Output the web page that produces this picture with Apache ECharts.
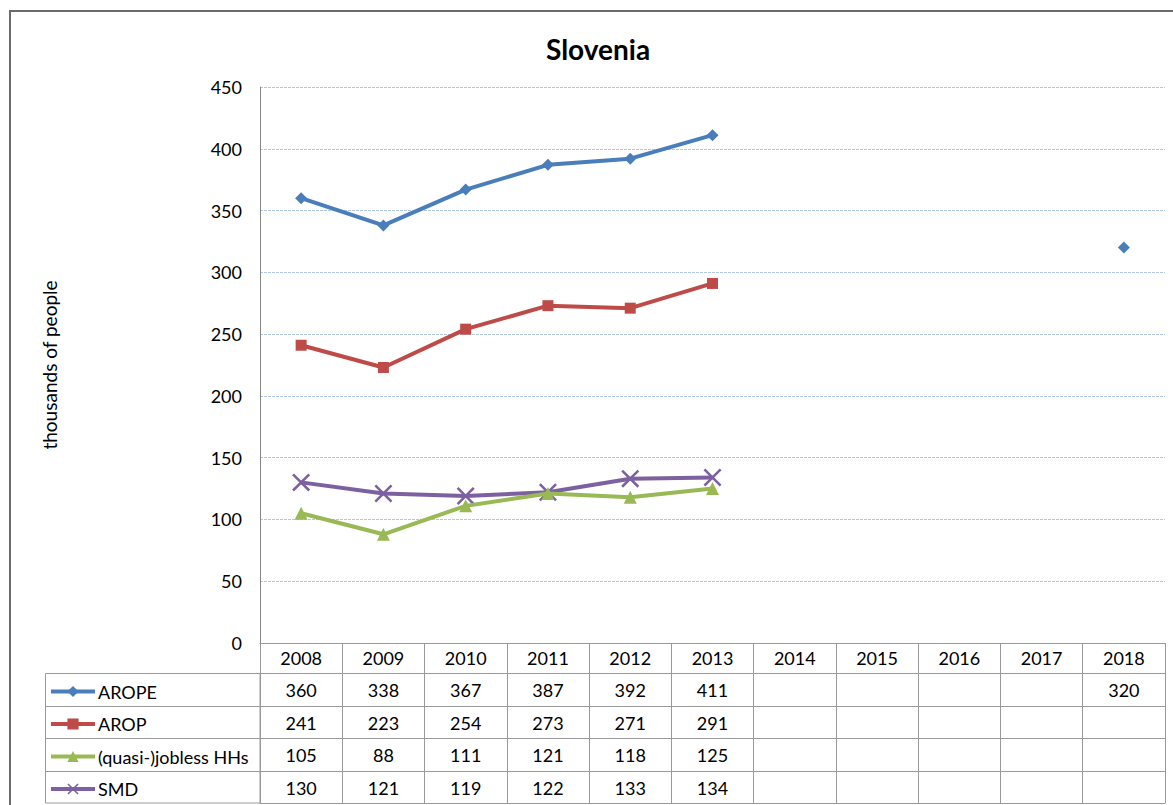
<!DOCTYPE html>
<html>
<head>
<meta charset="utf-8">
<script src="https://cdn.jsdelivr.net/npm/echarts@6/dist/echarts.min.js"></script>
<style>
html,body{margin:0;padding:0;background:#fff;}
#chart{width:1173px;height:805px;}
</style>
</head>
<body>
<div id="chart"></div>
<script>
const years = ['2008','2009','2010','2011','2012','2013','2014','2015','2016','2017','2018'];
const seriesNames = ['AROPE','AROP','(quasi-)jobless HHs','SMD'];
const arope   = [360,338,367,387,392,411,null,null,null,null,320];
const arop    = [241,223,254,273,271,291,null,null,null,null,null];
const jobless = [105,88,111,121,118,125,null,null,null,null,null];
const smd     = [130,121,119,122,133,134,null,null,null,null,null];
const yMin = 0, yMax = 450, yStep = 50;

const FONT = 'Lato';
const GRID = '#9a9a9a';
const colors = ['#4a7ebb','#be4b48','#98b954','#7d60a0'];
const symbols = ['diamond','rect','triangle','path://M0,1 L1,0 L10,9 L9,10 Z M9,0 L10,1 L1,10 L0,9 Z'];
const symbolSizes = [12,11,13,18];
const seriesData = [arope, arop, jobless, smd];
const rowOffsets = [30, 63, 95, 128, 160];
const rowCenters = [689.5, 722, 754.5, 787];

const chart = echarts.init(document.getElementById('chart'), null, {renderer:'svg'});

const xAxes = [{
  type:'category', data: years, boundaryGap:true, gridIndex:0, position:'bottom',
  axisLine:{show:true, lineStyle:{color:GRID, width:1}},
  axisTick:{show:true, interval:0, length:160, lineStyle:{color:GRID, width:1}},
  axisLabel:{interval:0, margin:6, fontSize:18, color:'#000', fontFamily:FONT},
  splitLine:{show:false}
}];
rowOffsets.forEach((off, r) => {
  const vals = seriesData[r];
  xAxes.push({
    type:'category', data: years, boundaryGap:true, gridIndex:0, position:'bottom', offset: off,
    axisLine:{show:true, onZero:false, lineStyle:{color:GRID, width:1}},
    axisTick:{show:false},
    axisLabel:{show: !!vals, interval:0, margin:8, fontSize:18, color:'#000', fontFamily:FONT,
      formatter:(v, i) => (vals && vals[i] != null) ? String(vals[i]) : ''},
    splitLine:{show:false}
  });
});

const legends = seriesNames.map((n, i) => ({
  orient:'horizontal', left:44, top: rowCenters[i] - 12, itemWidth:44, itemHeight:14,
  itemGap:0,
  lineStyle:{width:4},
  textStyle:{fontFamily:FONT, fontSize:18, color:'#000', padding:[0,0,0,-2]},
  data:[n]
}));

const option = {
  animation:false,
  backgroundColor:'#fff',
  title:{text:'Slovenia', left:541, top:30,
    textStyle:{fontFamily:FONT, fontWeight:'bold', fontSize:28, color:'#000'}},
  grid:{left:260, right:8, top:87, bottom:162, containLabel:false},
  legend: legends,
  xAxis: xAxes,
  yAxis:{
    type:'value', min:yMin, max:yMax, interval:yStep,
    name:'thousands of people', nameLocation:'middle', nameGap:201,
    nameTextStyle:{fontFamily:FONT, fontSize:19, color:'#000'},
    axisLine:{show:true, lineStyle:{color:'#868686', width:1}},
    axisTick:{show:false},
    axisLabel:{margin:18, fontSize:18, color:'#000', fontFamily:FONT},
    splitLine:{show:true, lineStyle:{color:'#b0c8e6', width:1, type:[3,1]}}
  },
  series: seriesNames.map((n, i) => ({
    name:n, type:'line', xAxisIndex:0, data: seriesData[i],
    symbol: symbols[i], symbolSize: symbolSizes[i], showAllSymbol:true,
    connectNulls:false,
    lineStyle:{width:4, color: colors[i]},
    itemStyle:{color: colors[i]},
    z: 10 - i
  })),
  graphic:[
    {type:'rect', shape:{x:10, y:11, width:1175, height:800}, style:{fill:'none', stroke:'#6b6b6b', lineWidth:2}, silent:true},
    {type:'rect', shape:{x:45.5, y:673.5, width:214.5, height:129.5}, style:{fill:'none', stroke:GRID, lineWidth:1}, silent:true},
    {type:'line', shape:{x1:45.5, y1:706.5, x2:260, y2:706.5}, style:{stroke:GRID, lineWidth:1}, silent:true},
    {type:'line', shape:{x1:45.5, y1:738.5, x2:260, y2:738.5}, style:{stroke:GRID, lineWidth:1}, silent:true},
    {type:'line', shape:{x1:45.5, y1:771.5, x2:260, y2:771.5}, style:{stroke:GRID, lineWidth:1}, silent:true}
  ]
};
chart.setOption(option);
</script>
</body>
</html>
